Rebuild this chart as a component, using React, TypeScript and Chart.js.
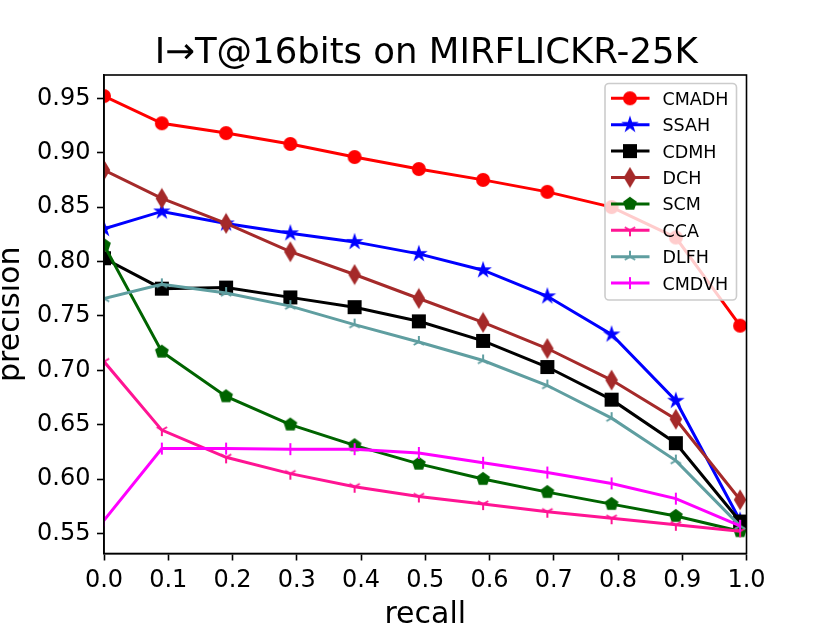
import { useEffect, useRef } from "react";
import { Chart, registerables } from "chart.js";

Chart.register(...registerables);

const recall = [0, 0.09, 0.19, 0.29, 0.39, 0.49, 0.59, 0.69, 0.79, 0.89, 0.99];

const cmadh = [0.952, 0.927, 0.918, 0.908, 0.896, 0.885, 0.875, 0.864, 0.85, 0.822, 0.741];
const ssah = [0.83, 0.846, 0.835, 0.826, 0.818, 0.807, 0.792, 0.768, 0.733, 0.672, 0.562];
const cdmh = [0.803, 0.775, 0.776, 0.767, 0.758, 0.745, 0.727, 0.703, 0.673, 0.633, 0.561];
const dch = [0.884, 0.858, 0.835, 0.809, 0.788, 0.766, 0.744, 0.72, 0.691, 0.655, 0.581];
const scm = [0.815, 0.717, 0.676, 0.65, 0.631, 0.614, 0.6, 0.588, 0.577, 0.566, 0.552];
const cca = [0.708, 0.645, 0.62, 0.605, 0.593, 0.584, 0.577, 0.57, 0.564, 0.558, 0.552];
const dlfh = [0.766, 0.779, 0.771, 0.759, 0.742, 0.726, 0.709, 0.686, 0.656, 0.617, 0.557];
const cmdvh = [0.562, 0.628, 0.628, 0.6275, 0.6275, 0.624, 0.615, 0.606, 0.596, 0.582, 0.557];

const methods = ["CMADH", "SSAH", "CDMH", "DCH", "SCM", "CCA", "DLFH", "CMDVH"];
const series = [cmadh, ssah, cdmh, dch, scm, cca, dlfh, cmdvh];
const colors = ["#ff0000", "#0000ff", "#000000", "#a52a2a", "#006400", "#ff1493", "#5f9ea0", "#ff00ff"];
const markers = ["circle", "star", "square", "thin_diamond", "pentagon", "tri_down", "tri_up", "vline"];

const xTicks = [0, 0.1, 0.2, 0.3, 0.4, 0.5, 0.6, 0.7, 0.8, 0.9, 1.0];
const yTicks = [0.55, 0.6, 0.65, 0.7, 0.75, 0.8, 0.85, 0.9, 0.95];

const title = "I→T@16bits on MIRFLICKR-25K";
const xTitle = "recall";
const yTitle = "precision";

const FONT = '"DejaVu Sans"';

// matplotlib-like marker glyphs drawn on small canvases
const makeMarker = (kind: string, color: string) => {
  const size = 22;
  const c = document.createElement("canvas");
  c.width = size;
  c.height = size;
  const g = c.getContext("2d")!;
  g.translate(size / 2, size / 2);
  g.fillStyle = color;
  g.strokeStyle = color;
  g.lineWidth = 2;
  g.lineJoin = "miter";
  g.beginPath();
  const poly = (pts: number[][]) => {
    pts.forEach(([px, py], i) => (i ? g.lineTo(px, py) : g.moveTo(px, py)));
    g.closePath();
    g.fill();
    g.stroke();
  };
  if (kind === "circle") {
    g.arc(0, 0, 6, 0, Math.PI * 2);
    g.fill();
    g.stroke();
  } else if (kind === "square") {
    poly([[-6, -6], [6, -6], [6, 6], [-6, 6]]);
  } else if (kind === "thin_diamond") {
    poly([[0, -8.5], [5.1, 0], [0, 8.5], [-5.1, 0]]);
  } else if (kind === "pentagon") {
    const pts = [];
    for (let i = 0; i < 5; i++) {
      const a = -Math.PI / 2 + (i * 2 * Math.PI) / 5;
      pts.push([6 * Math.cos(a), 6 * Math.sin(a)]);
    }
    poly(pts);
  } else if (kind === "star") {
    const pts = [];
    for (let i = 0; i < 10; i++) {
      const r = i % 2 ? 6 * 0.381966 : 6;
      const a = -Math.PI / 2 + (i * Math.PI) / 5;
      pts.push([r * Math.cos(a), r * Math.sin(a)]);
    }
    poly(pts);
  } else {
    let arms: number[][] = [];
    if (kind === "tri_down") arms = [[0, 6], [-5.2, -3], [5.2, -3]];
    if (kind === "tri_up") arms = [[0, -6], [-5.2, 3], [5.2, 3]];
    if (kind === "vline") arms = [[0, -6], [0, 6]];
    arms.forEach(([px, py]) => {
      g.moveTo(0, 0);
      g.lineTo(px, py);
    });
    g.stroke();
  }
  return c;
};

const App = () => {
  const chartRef = useRef<HTMLCanvasElement>(null);

  useEffect(() => {
    if (!chartRef.current) return;
    const ctx = chartRef.current.getContext("2d");
    const icons = markers.map((m, i) => makeMarker(m, colors[i]));

    const decor = {
      id: "decor",
      afterDatasetsDraw(chart: any) {
        const { ctx: c, chartArea: a } = chart;
        c.save();
        c.strokeStyle = "#000";
        c.lineWidth = 1.6;
        c.strokeRect(a.left, a.top, a.right - a.left, a.bottom - a.top);
        c.restore();
      },
      afterDraw(chart: any) {
        const { ctx: c, chartArea: a } = chart;
        const cx = (a.left + a.right) / 2;
        c.save();
        c.fillStyle = "#000";
        c.textAlign = "center";
        c.textBaseline = "alphabetic";
        c.font = `35.5px ${FONT}`;
        c.fillText(title, cx + 1, 63);
        c.font = `30px ${FONT}`;
        c.fillText(xTitle, cx, 622.5);
        c.save();
        c.translate(18.5, (a.top + a.bottom) / 2);
        c.rotate(-Math.PI / 2);
        c.fillText(yTitle, 0, 0);
        c.restore();

        // legend box
        const lx = 605, ly = 83.5, lw = 131.5, lh = 216.5;
        c.beginPath();
        c.roundRect(lx, ly, lw, lh, 4);
        c.fillStyle = "rgba(255,255,255,0.8)";
        c.fill();
        c.strokeStyle = "#cccccc";
        c.lineWidth = 1.6;
        c.stroke();
        c.textAlign = "left";
        c.font = `17.5px ${FONT}`;
        chart.data.datasets.forEach((ds: any, i: number) => {
          const y = 98.3 + i * 26.4;
          c.beginPath();
          c.moveTo(611, y);
          c.lineTo(649.5, y);
          c.strokeStyle = ds.borderColor;
          c.lineWidth = 3;
          c.stroke();
          const ic = icons[i];
          c.drawImage(ic, 630 - ic.width / 2, y - ic.height / 2);
          c.fillStyle = "#000";
          c.fillText(ds.label, 662.5, y + 6.4);
        });
        c.restore();
      },
    };

    const tickFont = { family: FONT, size: 24 };

    const myChart = new Chart(ctx as any, {
      type: "line",
      data: {
        datasets: series.map((s, i) => ({
          label: methods[i],
          data: recall.map((x, j) => ({ x, y: s[j] })),
          borderColor: colors[i],
          backgroundColor: colors[i],
          borderWidth: 3,
          pointStyle: icons[i] as any,
          pointRadius: 7,
          pointHoverRadius: 7,
          tension: 0,
          clip: 0,
          order: series.length - i,
        })),
      },
      options: {
        animation: false,
        responsive: false,
        events: [],
        layout: { padding: { left: 0, top: 75, right: 83.5, bottom: 0 } },
        plugins: {
          legend: { display: false },
          title: { display: false },
          tooltip: { enabled: false },
        },
        scales: {
          x: {
            type: "linear",
            min: 0,
            max: 1,
            afterBuildTicks: (axis: any) => {
              axis.ticks = xTicks.map((v) => ({ value: v }));
            },
            afterFit: (s: any) => {
              s.height = 69.5;
            },
            ticks: {
              callback: (v: any) => Number(v).toFixed(1),
              font: tickFont,
              color: "#000",
              padding: 6,
              maxRotation: 0,
              autoSkip: false,
            },
            grid: { drawOnChartArea: false, drawTicks: true, tickLength: 7, tickWidth: 1.6, tickColor: "#000" },
            border: { display: true, color: "#000", width: 1.6 },
          },
          y: {
            type: "linear",
            min: 0.5316,
            max: 0.9714,
            afterBuildTicks: (axis: any) => {
              axis.ticks = yTicks.map((v) => ({ value: v }));
            },
            afterFit: (s: any) => {
              s.width = 104;
            },
            ticks: {
              callback: (v: any) => Number(v).toFixed(2),
              font: tickFont,
              color: "#000",
              padding: 6.5,
              autoSkip: false,
            },
            grid: { drawOnChartArea: false, drawTicks: true, tickLength: 7, tickWidth: 1.6, tickColor: "#000" },
            border: { display: true, color: "#000", width: 1.6 },
          },
        },
      },
      plugins: [decor],
    });

    return () => {
      myChart.destroy();
    };
  }, []);

  return (
    <div style={{ position: "fixed", left: 0, top: 0, width: 830, height: 623, background: "#fff" }}>
      <canvas ref={chartRef} width={830} height={623} />
    </div>
  );
};

export default App;
